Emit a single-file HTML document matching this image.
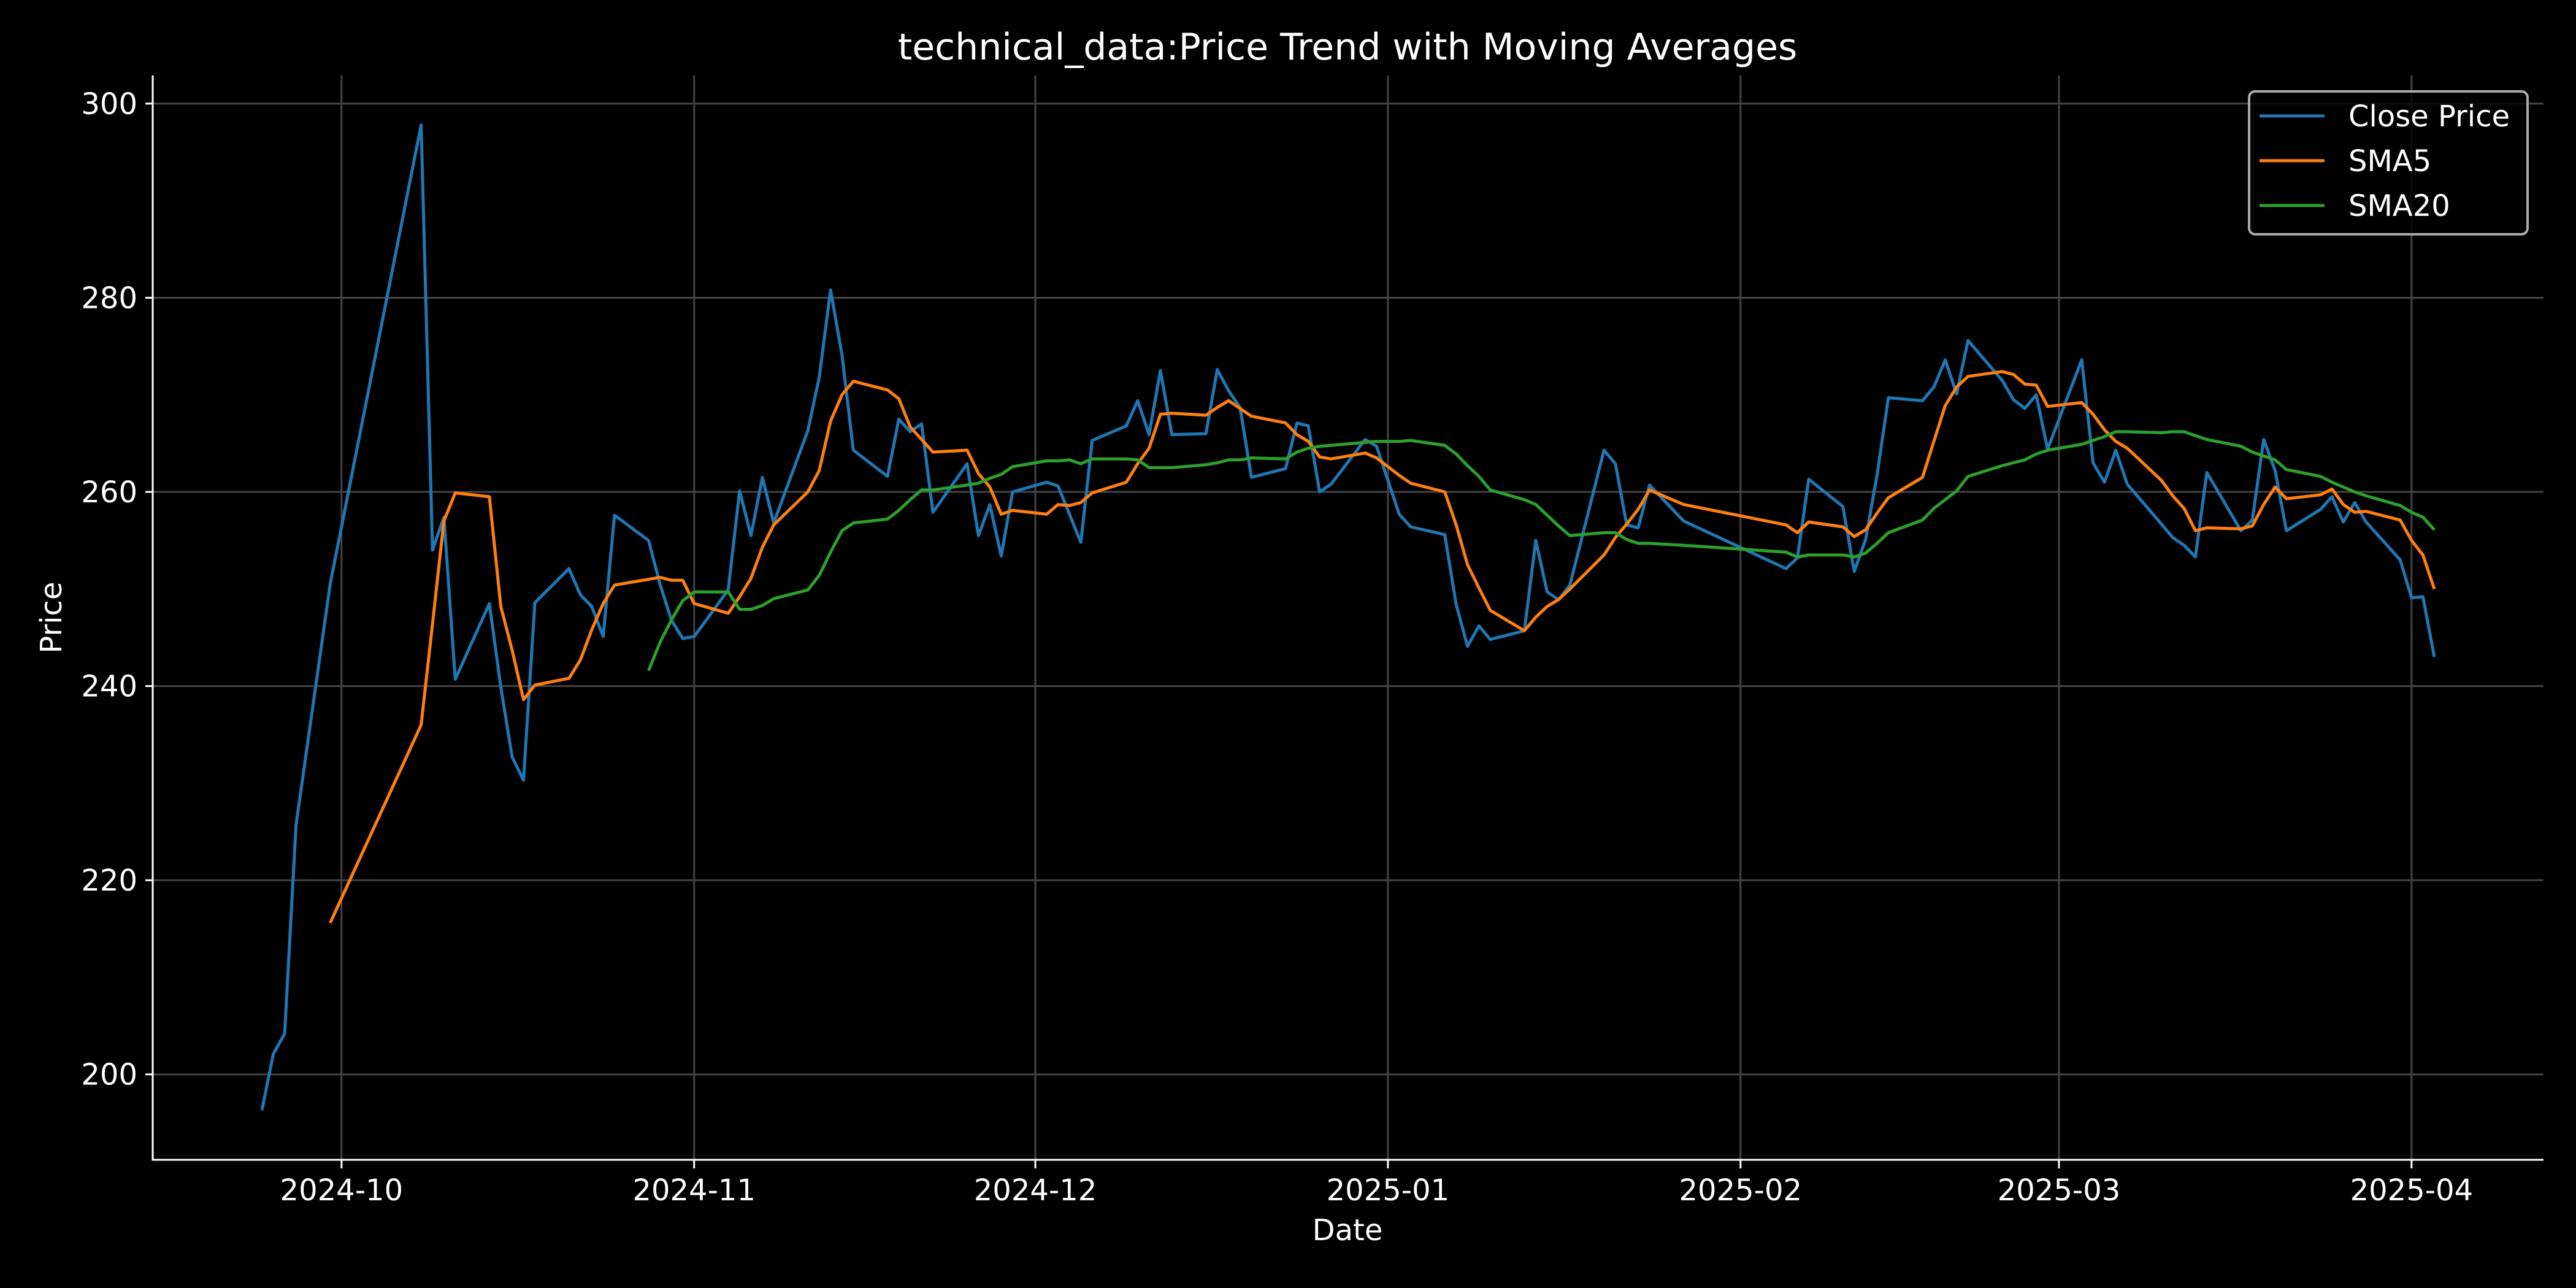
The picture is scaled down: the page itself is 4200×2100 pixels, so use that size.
<!DOCTYPE html>
<html><head><meta charset="utf-8"><style>
html,body{margin:0;padding:0;background:#000;width:4200px;height:2100px;overflow:hidden}
svg{display:block;font-family:"DejaVu Sans","Liberation Sans",sans-serif}
</style></head><body>
<svg id="chart" width="4200" height="2100" viewBox="0 0 4200 2100">
<rect width="4200" height="2100" fill="#000"/>
<g id="grid"></g>
<g id="series"></g>
<g id="axes"></g>
<text x="2197" y="97" fill="#fff" font-size="60" text-anchor="middle">technical_data:Price Trend with Moving Averages</text>
<text x="2197" y="2022" fill="#fff" font-size="48" text-anchor="middle">Date</text>
<text transform="translate(100,1007) rotate(-90)" fill="#fff" font-size="48" text-anchor="middle">Price</text>
<g>
<rect x="3667" y="149" width="454" height="233" rx="10" fill="#000" fill-opacity="0.8" stroke="#aaa" stroke-width="4"/>
<line x1="3684" y1="189" x2="3790" y2="189" stroke="#1f77b4" stroke-width="5"/>
<text x="3829" y="206" fill="#fff" font-size="48">Close Price</text>
<line x1="3684" y1="262" x2="3790" y2="262" stroke="#ff7f0e" stroke-width="5"/>
<text x="3829" y="279" fill="#fff" font-size="48">SMA5</text>
<line x1="3684" y1="335" x2="3790" y2="335" stroke="#2ca02c" stroke-width="5"/>
<text x="3829" y="352" fill="#fff" font-size="48">SMA20</text>
</g>
</svg>
<script>
const dates = ["2024-09-24","2024-09-25","2024-09-26","2024-09-27","2024-09-30",
"2024-10-08","2024-10-09","2024-10-10","2024-10-11","2024-10-14","2024-10-15","2024-10-16","2024-10-17","2024-10-18","2024-10-21","2024-10-22","2024-10-23","2024-10-24","2024-10-25","2024-10-28","2024-10-29","2024-10-30","2024-10-31",
"2024-11-01","2024-11-04","2024-11-05","2024-11-06","2024-11-07","2024-11-08","2024-11-11","2024-11-12","2024-11-13","2024-11-14","2024-11-15","2024-11-18","2024-11-19","2024-11-20","2024-11-21","2024-11-22","2024-11-25","2024-11-26","2024-11-27","2024-11-28","2024-11-29",
"2024-12-02","2024-12-03","2024-12-04","2024-12-05","2024-12-06","2024-12-09","2024-12-10","2024-12-11","2024-12-12","2024-12-13","2024-12-16","2024-12-17","2024-12-18","2024-12-19","2024-12-20","2024-12-23","2024-12-24","2024-12-25","2024-12-26","2024-12-27","2024-12-30","2024-12-31",
"2025-01-02","2025-01-03","2025-01-06","2025-01-07","2025-01-08","2025-01-09","2025-01-10","2025-01-13","2025-01-14","2025-01-15","2025-01-16","2025-01-17","2025-01-20","2025-01-21","2025-01-22","2025-01-23","2025-01-24","2025-01-27",
"2025-02-05","2025-02-06","2025-02-07","2025-02-10","2025-02-11","2025-02-12","2025-02-13","2025-02-14","2025-02-17","2025-02-18","2025-02-19","2025-02-20","2025-02-21","2025-02-24","2025-02-25","2025-02-26","2025-02-27","2025-02-28",
"2025-03-03","2025-03-04","2025-03-05","2025-03-06","2025-03-07","2025-03-10","2025-03-11","2025-03-12","2025-03-13","2025-03-14","2025-03-17","2025-03-18","2025-03-19","2025-03-20","2025-03-21","2025-03-24","2025-03-25","2025-03-26","2025-03-27","2025-03-28","2025-03-31",
"2025-04-01","2025-04-02","2025-04-03"];
const closePrice = [196.3,202.1,204.2,225.7,250.5,
297.8,254,257.4,240.7,248.5,239.9,232.7,230.3,248.6,252.1,249.4,248.2,245.1,257.6,255,250.5,246.8,244.9,
245.1,249.9,260.1,255.5,261.5,256.8,266.3,271.8,280.8,274.1,264.3,261.6,267.5,266.2,267,257.9,262.9,255.5,258.7,253.4,260,
261,260.6,257.7,254.8,265.3,266.8,269.4,265.9,272.5,265.9,266,272.6,270.4,268.7,261.5,262.4,267.1,266.8,260,260.8,265.4,264.7,
257.7,256.4,255.6,248.4,244.1,246.2,244.8,245.7,255,249.7,248.9,250.4,264.3,262.9,256.6,256.3,260.7,257,
252.1,253.2,261.3,258.5,251.8,255.1,261.7,269.7,269.4,270.8,273.6,270.1,275.6,271.5,269.5,268.6,270,264.4,
273.6,263,261,264.3,260.8,256.7,255.3,254.5,253.3,262,256,257.1,265.4,262.2,256,258.2,259.5,256.9,258.9,256.9,253,
249.1,249.2,243];
const sma5 = [null,null,null,null,215.6,
236,246.4,257,259.9,259.5,248.2,243.7,238.6,240.1,240.8,242.7,245.8,248.5,250.4,251,251.2,250.9,250.9,
248.5,247.5,249.2,251.1,254.3,256.6,260,262.2,267.3,270,271.4,270.5,269.6,266.7,265.4,264.1,264.3,261.9,260.5,257.7,258.1,
257.7,258.7,258.6,258.9,259.9,261,262.9,264.5,268,268.1,267.9,268.7,269.4,268.6,267.8,267.1,265.9,265.2,263.6,263.4,264,263.5,
261.7,260.9,260,256.6,252.5,250.1,247.8,245.7,247.1,248.2,248.9,250,253.5,255.3,256.7,258.2,260.2,258.7,
256.6,255.8,256.9,256.4,255.4,256.1,257.8,259.4,261.5,265.2,268.9,270.8,271.9,272.4,272.1,271.1,271,268.8,
269.2,268,266.4,265.2,264.5,261.2,259.6,258.3,256,256.3,256.2,256.5,258.7,260.5,259.3,259.7,260.3,258.7,257.9,258,257.1,
255,253.5,250];
const sma20 = [null,null,null,null,null,
null,null,null,null,null,null,null,null,null,null,null,null,null,null,241.6,244.5,246.8,248.8,
249.7,249.7,247.9,247.9,248.3,249,249.9,251.4,253.8,256,256.8,257.2,258.1,259.2,260.2,260.2,260.7,260.9,261.4,261.8,262.6,
263.2,263.2,263.3,262.9,263.4,263.4,263.3,262.5,262.5,262.5,262.8,263,263.3,263.3,263.5,263.4,264.1,264.5,264.7,264.8,265.1,265.2,
265.2,265.3,264.8,263.9,262.7,261.6,260.2,259.2,258.7,257.6,256.5,255.5,255.8,255.8,255.1,254.7,254.7,254.5,
253.8,253.3,253.5,253.5,253.3,253.7,254.7,255.8,257.1,258.3,259.2,260.1,261.6,262.7,263,263.3,263.9,264.3,
264.9,265.3,265.7,266.2,266.2,266.1,266.2,266.2,265.8,265.4,264.7,264.1,263.7,263.3,262.3,261.6,261,260.5,260,259.6,258.6,
257.9,257.4,256.1];
const xTickLabels = ["2024-10","2024-11","2024-12","2025-01","2025-02","2025-03","2025-04"];
const yTickValues = [200,220,240,260,280,300];

const NS = "http://www.w3.org/2000/svg";
const L = 249, R = 4147, T = 123, B = 1891;
const t0 = Date.UTC(2024, 9, 1);
const DAY = 86400000;
const xMinDay = -16.6, xMaxDay = 193.6, yMin = 191.2, yMax = 302.9;
function dayOf(s){const p=s.split("-").map(Number);return (Date.UTC(p[0],p[1]-1,p[2]||1)-t0)/DAY;}
function xScale(d){return L + (dayOf(d)-xMinDay)/(xMaxDay-xMinDay)*(R-L);}
function yScale(v){return B - (v-yMin)/(yMax-yMin)*(B-T);}
function mk(tag, attrs, parent){const e=document.createElementNS(NS,tag);for(const k in attrs)e.setAttribute(k,attrs[k]);parent.appendChild(e);return e;}

const grid = document.getElementById("grid"), axes = document.getElementById("axes"), series = document.getElementById("series");
yTickValues.forEach(v=>{
  const y = yScale(v);
  const g = mk("line",{x1:L,x2:R,y1:y,y2:y,stroke:"#444",'stroke-width':3},grid);
  
  
  const tk = mk("line",{x1:L-12,x2:L,y1:y,y2:y,stroke:"#fff",'stroke-width':3},axes);
  
  
  const tx = mk("text",{x:L-25,y:y+17,fill:"#fff",'font-size':48,'text-anchor':'end'},axes);
  tx.textContent = v;
  
  
});
xTickLabels.forEach(lbl=>{
  const x = xScale(lbl+"-01");
  const g = mk("line",{x1:x,x2:x,y1:T,y2:B,stroke:"#444",'stroke-width':3},grid);
  
  
  const tk = mk("line",{x1:x,x2:x,y1:B,y2:B+14,stroke:"#fff",'stroke-width':3},axes);
  
  
  const tx = mk("text",{x:x,y:B+66,fill:"#fff",'font-size':48,'text-anchor':'middle'},axes);
  tx.textContent = lbl;
  
  
});
const sp1 = mk("line",{x1:L,x2:L,y1:T,y2:B+1.5,stroke:"#fff",'stroke-width':3},axes);


const sp2 = mk("line",{x1:L-1.5,x2:R,y1:B,y2:B,stroke:"#fff",'stroke-width':3},axes);



function drawLine(vals, color, name){
  let d = "";
  vals.forEach((v,i)=>{ if(v==null) return; d += (d?"L":"M") + xScale(dates[i]).toFixed(1) + "," + yScale(v).toFixed(1); });
  const p = mk("path",{d:d,fill:"none",stroke:color,'stroke-width':5,'stroke-linejoin':'round'},series);
  
  
}
drawLine(closePrice,"#1f77b4","close-price-line");
drawLine(sma5,"#ff7f0e","sma5-line");
drawLine(sma20,"#2ca02c","sma20-line");
</script>
</body></html>
